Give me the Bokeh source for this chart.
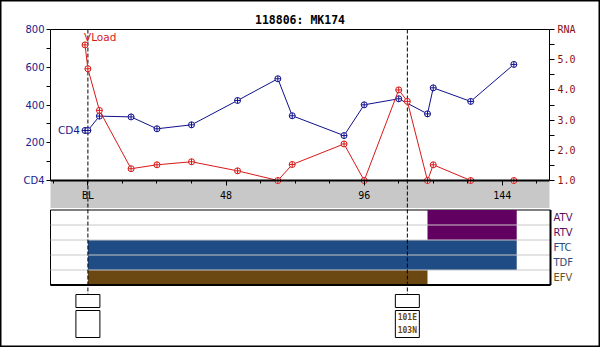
from bokeh.plotting import figure
from bokeh.models import Range1d, LinearAxis, FixedTicker, ColumnDataSource, Grid
from bokeh.core.properties import value
from bokeh.embed import file_html
from bokeh.resources import INLINE

# ---------------- data ----------------
title_text = "118806: MK174"

cd4_weeks = [-1, 0, 4, 15, 24, 36, 52, 66, 71, 89, 96, 108, 118, 120, 133, 148]
cd4_vals = [265, 265, 341, 337, 274, 295, 424, 539, 343, 238, 401, 433, 353, 491, 419, 615]

rna_weeks = [-1, 0, 4, 15, 24, 36, 52, 66, 71, 89, 96, 108, 111, 118, 120, 133, 148]
rna_vals = [5.49, 4.70, 3.32, 1.39, 1.52, 1.62, 1.32, 1.0, 1.53, 2.21, 1.0, 4.0, 3.62, 1.0, 1.52, 1.0, 1.0]

drug_names = ["ATV", "RTV", "FTC", "TDF", "EFV"]
drug_start = [118, 118, 0, 0, 0]
drug_end = [149, 149, 149, 149, 118]
drug_colors = ["#620062", "#620062", "#1f4c85", "#1f4c85", "#6b4712"]
drug_label_colors = ["#5c0c5c", "#5c0c5c", "#2a4b7c", "#2a4b7c", "#6b4f1e"]

event_weeks = [0, 111]
event_mutations = ["", "101E\n103N"]

x_ticks = [0, 48, 96, 144]
x_tick_labels = ["BL", "48", "96", "144"]
x_minor_ticks = [-12, 12, 24, 36, 60, 72, 84, 108, 120, 132, 156]

cd4_ticks = [0, 200, 400, 600, 800]
cd4_tick_labels = ["CD4", "200", "400", "600", "800"]
cd4_minor_ticks = [100, 300, 500, 700]

rna_ticks = [1, 2, 3, 4, 5, 6]
rna_tick_labels = ["1.0", "2.0", "3.0", "4.0", "5.0", "RNA"]
rna_minor_ticks = [1.5, 2.5, 3.5, 4.5, 5.5]

# ---------------- layout (pixels) ----------------
W, H = 600, 347
X0_PX, PX_PER_WK = 87.4, 2.878          # week 0 position and scale
MAIN_L, MAIN_R, MAIN_T, MAIN_B = 50, 549, 29, 180
PANEL_R = 550
BAND_B = 207.5
ROW0_PX, ROW_PX = 217, 15

def wk(px):
    return (px - X0_PX) / PX_PER_WK

XMIN, XMAX, XPAN = wk(MAIN_L), wk(MAIN_R), wk(PANEL_R)
CD4_PX = (MAIN_B - MAIN_T) / 800.0
RNA_PX = (MAIN_B - MAIN_T) / 5.0

def cd4_at(px):
    return (MAIN_B - px) / CD4_PX

def row_at(px):
    return (ROW0_PX - px) / ROW_PX

p = figure(width=W, height=H, output_backend="svg", toolbar_location=None,
           x_axis_location=None, y_axis_location=None, min_border=0,
           x_range=Range1d(wk(0), wk(W)),
           y_range=Range1d(cd4_at(H), cd4_at(0)))
p.extra_y_ranges = {
    "rna": Range1d(1 + (MAIN_B - H) / RNA_PX, 1 + MAIN_B / RNA_PX),
    "rows": Range1d(row_at(H), row_at(0)),
}
p.center = [c for c in p.center if not isinstance(c, Grid)]
p.background_fill_color = "white"
p.border_fill_color = "white"
p.outline_line_color = "black"
p.outline_line_width = 2

FONT = "DejaVu Sans"
MONO = "DejaVu Sans Mono"
NAVY = "#1a1a8c"
MAROON = "#8b1010"
RED = "#d81818"
BLUE = "#10108c"

# gray band under the time axis
p.quad(left=[XMIN], right=[XMAX], top=[0], bottom=[cd4_at(BAND_B)],
       fill_color="#c8c8c8", line_color=None)

# drug panel
p.quad(left=[XMIN], right=[XPAN], top=[0.5], bottom=[-4.5], y_range_name="rows",
       fill_color="white", line_color="black", line_width=1)
rows_y = [-i for i in range(len(drug_names))]
dsrc = ColumnDataSource(dict(y=rows_y, left=drug_start, right=drug_end,
                             color=drug_colors, name=drug_names,
                             lcolor=drug_label_colors))
p.hbar(y="y", left="left", right="right", height=1, fill_color="color",
       line_color=None, source=dsrc, y_range_name="rows")
seps = [y - 0.5 for y in rows_y[:-1]]
p.segment(x0=[XMIN] * len(seps), x1=[XPAN] * len(seps), y0=seps, y1=seps,
          line_color="#c8c8c8", line_width=1, y_range_name="rows")
p.segment(x0=[XPAN, XMIN], x1=[XPAN, XPAN], y0=[0.5, -4.5], y1=[-4.5, -4.5],
          line_color="black", line_width=2, y_range_name="rows")
p.text(x=XPAN, y="y", text="name", source=dsrc, y_range_name="rows",
       x_offset=3, text_baseline="middle", text_align="left",
       text_color="lcolor", text_font=value(FONT), text_font_size="10px")

# event boxes
n_ev = len(event_weeks)
p.rect(x=event_weeks, y=[row_at(300.5)] * n_ev, width=24, width_units="screen",
       height=13, height_units="screen", fill_color="white", line_color="black",
       y_range_name="rows")
p.rect(x=event_weeks, y=[row_at(323.5)] * n_ev, width=24, width_units="screen",
       height=27, height_units="screen", fill_color="white", line_color="black",
       y_range_name="rows")
p.text(x=event_weeks, y=[row_at(323.5)] * n_ev, text=event_mutations,
       y_range_name="rows", text_align="center", text_baseline="middle",
       text_color="#6b4712", text_font=value(MONO), text_font_size="8px",
       text_font_style="bold", text_line_height=1.5)

# dashed event lines
p.segment(x0=event_weeks, x1=event_weeks, y0=[row_at(MAIN_T)] * n_ev,
          y1=[row_at(294)] * n_ev, y_range_name="rows",
          line_color="black", line_width=1, line_dash="4 2")

# series
p.line(cd4_weeks, cd4_vals, line_color=BLUE, line_width=1)
p.scatter(cd4_weeks, cd4_vals, marker="circle_cross", size=6,
          line_color=BLUE, fill_color="white", line_width=1)
p.line(rna_weeks, rna_vals, line_color=RED, line_width=1, y_range_name="rna")
p.scatter(rna_weeks, rna_vals, marker="circle_cross", size=6, y_range_name="rna",
          line_color=RED, fill_color="white", line_width=1)

# series labels
p.text(x=[cd4_weeks[0]], y=[cd4_vals[0]], text=["CD4"], x_offset=-5,
       text_align="right", text_baseline="middle", text_color=NAVY,
       text_font=value(FONT), text_font_size="10.5px")
p.text(x=[rna_weeks[0]], y=[rna_vals[0]], text=["VLoad"], y_offset=-2,
       x_offset=-1, text_align="left", text_baseline="bottom", text_color=RED,
       text_font=value(FONT), text_font_size="10.5px", y_range_name="rna")

# title
p.text(x=[(XMIN + XMAX) / 2], y=[cd4_at(19)], text=[title_text],
       text_align="center", text_baseline="middle", text_color="black",
       text_font=value(MONO), text_font_size="11.5px", text_font_style="bold")

# axes
left = LinearAxis(fixed_location=XMIN, bounds=(0, 800),
                  ticker=FixedTicker(ticks=cd4_ticks, minor_ticks=cd4_minor_ticks),
                  major_label_overrides=dict(zip(cd4_ticks, cd4_tick_labels)))
right = LinearAxis(fixed_location=XMAX, bounds=(1, 6), y_range_name="rna",
                   ticker=FixedTicker(ticks=rna_ticks, minor_ticks=rna_minor_ticks),
                   major_label_overrides=dict(zip(rna_ticks, rna_tick_labels)))
bottom = LinearAxis(fixed_location=0, bounds=(XMIN, XMAX),
                    ticker=FixedTicker(ticks=x_ticks, minor_ticks=x_minor_ticks),
                    major_label_overrides=dict(zip(x_ticks, x_tick_labels)))
top = LinearAxis(fixed_location=800, bounds=(XMIN, XMAX),
                 ticker=FixedTicker(ticks=[]), major_label_text_font_size="0px")

for ax, col, font in ((left, NAVY, FONT), (right, MAROON, MONO), (bottom, "black", MONO)):
    ax.axis_line_color = "black"
    ax.major_tick_line_color = "black"
    ax.minor_tick_line_color = "black"
    ax.major_tick_in = 0
    ax.minor_tick_in = 0
    ax.major_label_text_color = col
    ax.major_label_text_font = font
    ax.major_label_text_font_size = "10px"

left.major_tick_out = 4
left.minor_tick_out = 4
left.major_label_standoff = 2
right.major_tick_out = 5
right.minor_tick_out = 5
right.major_label_standoff = 3
bottom.major_tick_out = 5
bottom.minor_tick_out = 3
bottom.major_label_standoff = 4
bottom.axis_line_width = 2
top.axis_line_color = "black"
top.major_tick_line_color = None
top.minor_tick_line_color = None

p.add_layout(left, "left")
p.add_layout(right, "right")
p.add_layout(bottom, "below")
p.add_layout(top, "above")

open("out.html", "w").write(file_html(p, INLINE))
